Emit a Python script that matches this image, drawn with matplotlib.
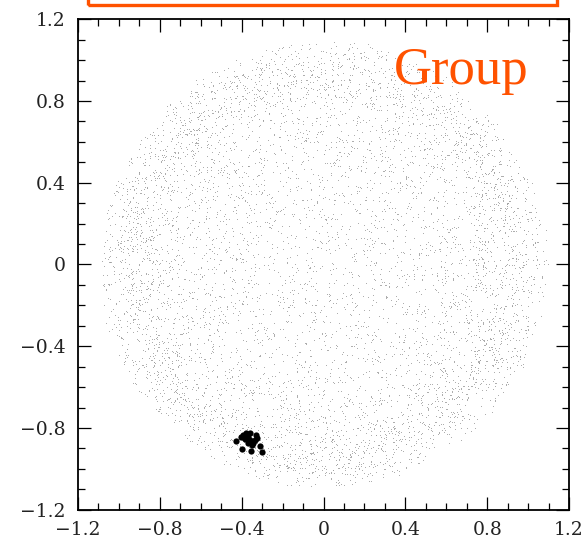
import numpy as np
import matplotlib
matplotlib.use("Agg")
import matplotlib.pyplot as plt
from matplotlib.patches import Rectangle
from matplotlib.ticker import MultipleLocator, FixedLocator, FixedFormatter

# ---- data -------------------------------------------------------------
# member galaxies of the group (x, y)
group_x = [-0.428, -0.397, -0.392, -0.379, -0.368, -0.384, -0.359, -0.371, -0.351,
           -0.330, -0.335, -0.354, -0.310, -0.303, -0.359, -0.343, -0.326, -0.403]
group_y = [-0.865, -0.901, -0.836, -0.824, -0.842, -0.852, -0.857, -0.874, -0.885,
           -0.836, -0.860, -0.914, -0.890, -0.917, -0.827, -0.874, -0.847, -0.846]

# background field: points in a spherical shell seen in projection
field_count = 6500
shell_inner = 0.88
shell_outer = 1.10

tick_values = [-1.2, -0.8, -0.4, 0.0, 0.4, 0.8, 1.2]
tick_labels = ["\u22121.2", "\u22120.8", "\u22120.4", "0", "0.4", "0.8", "1.2"]
title_text = "Group"

# ---- background sample ------------------------------------------------
rng = np.random.default_rng(7)
d = rng.normal(size=(field_count, 3))
d /= np.linalg.norm(d, axis=1)[:, None]
u = rng.random(field_count)
r = (shell_inner**3 + u * (shell_outer**3 - shell_inner**3)) ** (1.0 / 3.0)
field_x = d[:, 0] * r
field_y = d[:, 1] * r

# ---- figure -----------------------------------------------------------
orange = "#ff5200"
fig = plt.figure(figsize=(5.87, 5.39), dpi=100)
ax = fig.add_axes([0.1329, 0.0544, 0.8365, 0.9098])

ax.scatter(field_x, field_y, s=0.55, c="0.62", linewidths=0, marker="o")
ax.plot(group_x, group_y, "o", color="black", markersize=4.5, markeredgewidth=0)

ax.set_xlim(-1.2, 1.2)
ax.set_ylim(-1.2, 1.2)

for axis in (ax.xaxis, ax.yaxis):
    axis.set_major_locator(FixedLocator(tick_values))
    axis.set_major_formatter(FixedFormatter(tick_labels))
    axis.set_minor_locator(MultipleLocator(0.1))

ax.tick_params(which="both", direction="in", top=True, right=True, width=0.9, color="black")
ax.tick_params(which="major", length=9.4)
ax.tick_params(which="minor", length=5)
ax.tick_params(axis="x", which="major", pad=8)
ax.tick_params(axis="y", which="major", pad=9)
for lab in ax.get_xticklabels() + ax.get_yticklabels():
    lab.set_fontfamily("DejaVu Serif")
    lab.set_fontsize(13.5)
    lab.set_color("#222222")
for sp in ax.spines.values():
    sp.set_linewidth(1.3)

ax.text(394 / 587, 1 - 84 / 539, title_text, transform=fig.transFigure,
        ha="left", va="baseline", color=orange,
        fontfamily="Liberation Serif", fontsize=38)

# framed banner running off the top edge
fig.patches.append(Rectangle((88 / 587, 1 - 5 / 539), (556.7 - 88) / 587, 0.2,
                             transform=fig.transFigure, fill=False,
                             edgecolor=orange, linewidth=2.4, clip_on=False))

fig.savefig("out.png", dpi=100)
